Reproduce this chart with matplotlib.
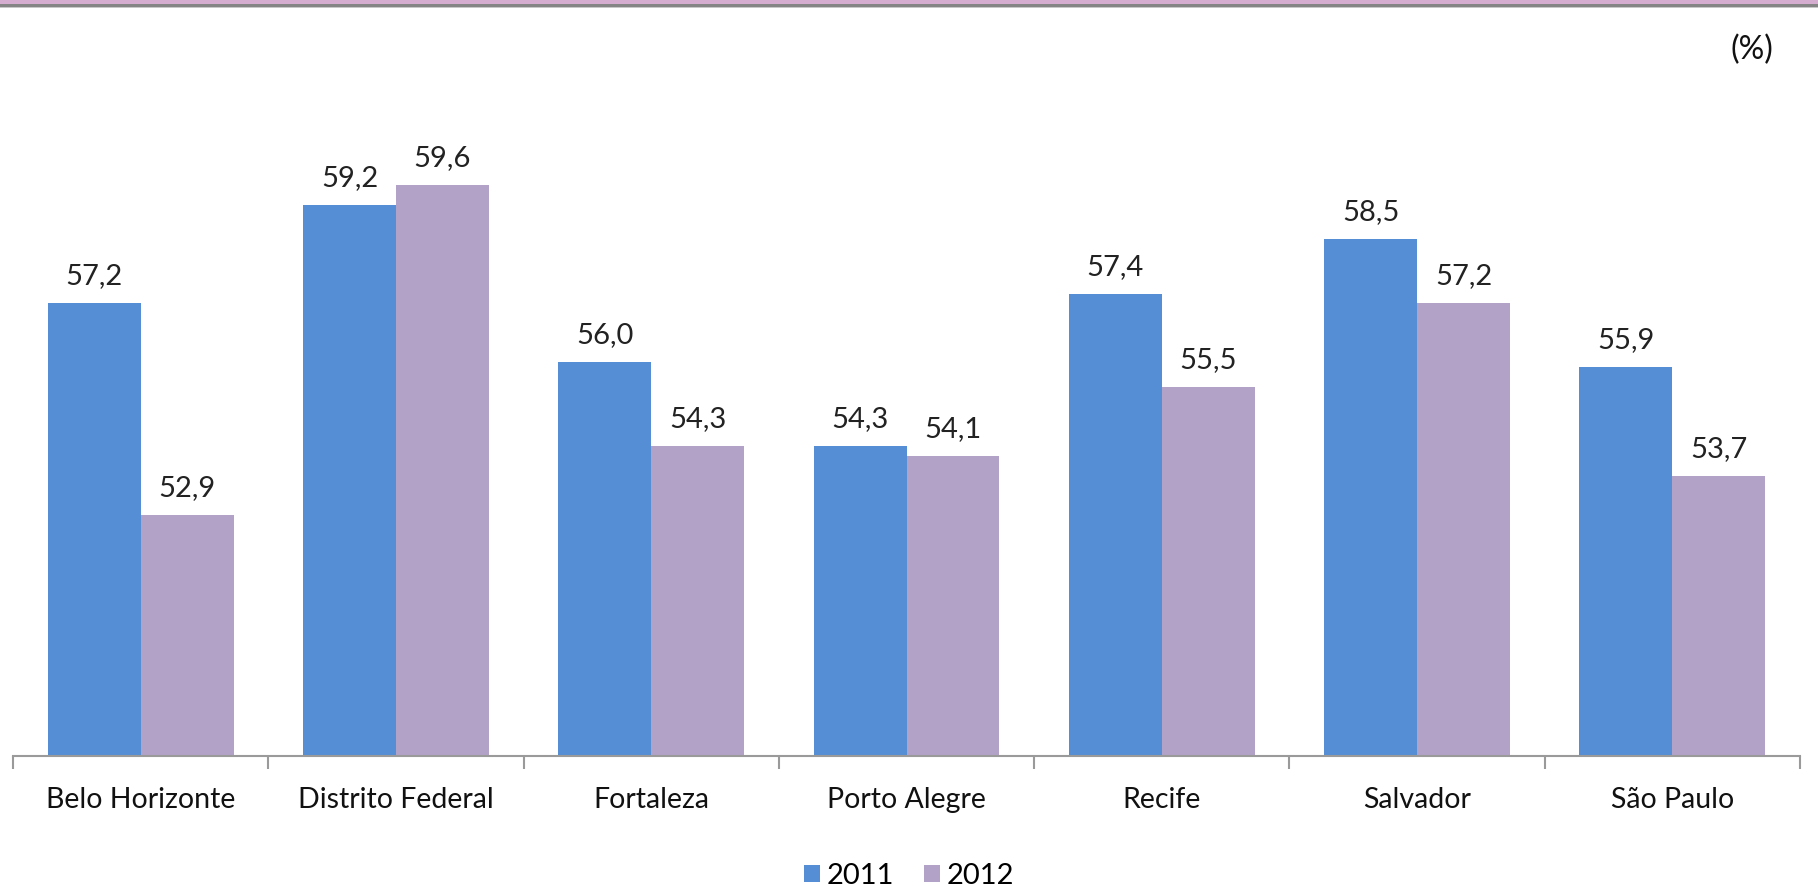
import matplotlib
matplotlib.use("Agg")
import matplotlib.pyplot as plt
from matplotlib.patches import Rectangle, Patch

categories = ["Belo Horizonte", "Distrito Federal", "Fortaleza", "Porto Alegre", "Recife", "Salvador", "São Paulo"]
series_names = ["2011", "2012"]
values_2011 = [57.2, 59.2, 56.0, 54.3, 57.4, 58.5, 55.9]
values_2012 = [52.9, 59.6, 54.3, 54.1, 55.5, 57.2, 53.7]
colors = ["#558ED5", "#B3A2C7"]

plt.rcParams['font.family'] = ['Lato', 'DejaVu Sans']

W, H = 1818, 886
fig = plt.figure(figsize=(W / 100, H / 100), dpi=100)

# top decorative border
fig.add_artist(Rectangle((0, 1 - 4 / H), 1, 4 / H, transform=fig.transFigure, color="#D5ADD0", lw=0))
fig.add_artist(Rectangle((0, 1 - 7 / H), 1, 3 / H, transform=fig.transFigure, color="#858585", lw=0))
fig.add_artist(Rectangle((0, 1 - 8 / H), 1, 1 / H, transform=fig.transFigure, color="#C8C8C8", lw=0))

ax_left, ax_right = 13 / W, 1800 / W
ax_bottom = (H - 756) / H
ax_top_px = 60
ax = fig.add_axes([ax_left, ax_bottom, ax_right - ax_left, (756 - ax_top_px) / H])

ymin = 48.0
px_per_unit = 49.2
ax.set_ylim(ymin, ymin + (756 - ax_top_px) / px_per_unit)
ax.set_xlim(-0.5, len(categories) - 0.5)

bw = 0.364
xs = list(range(len(categories)))
for vals, off, c in [(values_2011, -bw / 2, colors[0]), (values_2012, bw / 2, colors[1])]:
    ax.bar([x + off for x in xs], [v - ymin for v in vals], bottom=ymin, width=bw, color=c, lw=0)
    for x, v in zip(xs, vals):
        ax.annotate(f"{v:.1f}".replace(".", ","), xy=(x + off, v), xytext=(0, 10),
                    textcoords="offset points", ha="center", va="bottom", fontsize=21, color="#222222")

for s in ["top", "right", "left"]:
    ax.spines[s].set_visible(False)
ax.spines["bottom"].set_color("#9A9A9A")
ax.spines["bottom"].set_linewidth(1.5)
ax.set_yticks([])

ax.set_xticks([x - 0.5 for x in range(len(categories) + 1)])
ax.set_xticklabels([])
ax.tick_params(axis="x", which="major", length=9, width=1.5, color="#9A9A9A")
ax.set_xticks(xs, minor=True)
ax.set_xticklabels(categories, minor=True, fontsize=20.5, color="#111111")
ax.tick_params(axis="x", which="minor", length=0, pad=22)

fig.text(1752 / W, 1 - 50 / H, "(%)", ha="center", va="center", fontsize=23, color="#111111")

handles = [Patch(facecolor=c, edgecolor="none") for c in colors]
fig.legend(handles, series_names, loc="center", bbox_to_anchor=(0.5, 1 - 876 / H), ncol=2, frameon=False,
           fontsize=21, handlelength=0.55, handleheight=0.55, handletextpad=0.25, columnspacing=1.0)

fig.savefig("out.png", dpi=100)
